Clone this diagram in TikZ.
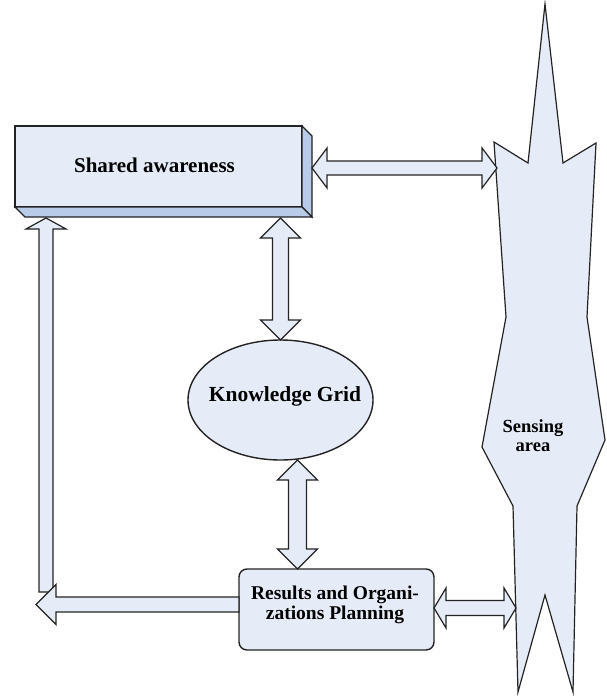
\documentclass[tikz,border=0pt]{standalone}
\usepackage{fontspec}
\setmainfont{Liberation Serif}
\usetikzlibrary{calc,shapes.geometric}

\definecolor{boxfill}{RGB}{230,236,247}
\definecolor{boxside}{RGB}{184,204,234}
\definecolor{edge}{RGB}{35,35,35}

% block arrow with a head at both ends: #1 head length, #2 half shaft, #3 from, #4 to
\newcommand{\dblarrow}[4]{%
  \filldraw[arr] (#3) -- ($(#3)!#1pt!(#4)!20pt!90:(#4)$) -- ($(#3)!#1pt!(#4)!#2pt!90:(#4)$)
    -- ($(#4)!#1pt!(#3)!#2pt!-90:(#3)$) -- ($(#4)!#1pt!(#3)!20pt!-90:(#3)$) -- (#4)
    -- ($(#4)!#1pt!(#3)!20pt!90:(#3)$) -- ($(#4)!#1pt!(#3)!#2pt!90:(#3)$)
    -- ($(#3)!#1pt!(#4)!#2pt!-90:(#4)$) -- ($(#3)!#1pt!(#4)!20pt!-90:(#4)$) -- cycle;}
% block arrow with one head, at #4
\newcommand{\sglarrow}[4]{%
  \filldraw[arr] ($(#3)!#2pt!90:(#4)$) -- ($(#4)!#1pt!(#3)!#2pt!-90:(#3)$)
    -- ($(#4)!#1pt!(#3)!20pt!-90:(#3)$) -- (#4) -- ($(#4)!#1pt!(#3)!20pt!90:(#3)$)
    -- ($(#4)!#1pt!(#3)!#2pt!90:(#3)$) -- ($(#3)!#2pt!-90:(#4)$) -- cycle;}

\begin{document}
\begin{tikzpicture}[x=1pt,y=-1pt,
    box/.style={draw=edge,fill=boxfill,line width=1.4pt,outer sep=0pt},
    arr/.style={draw=edge,fill=boxfill,line width=1.2pt},
    lbl/.style={font=\bfseries\fontsize{#1}{#1}\selectfont,align=center}]
   \useasboundingbox (0,0) rectangle (607,696);
   %sensing area
   \filldraw[arr] (545,4) -- (563,163) -- (596,143) -- (587,317) -- (605,440) -- (577,506)
      -- (573,692) -- (545,595) -- (518,692) -- (513,506) -- (482,447) -- (506,317)
      -- (494,142) -- (528,163) -- cycle;
   \node[lbl=18.5,text height=11pt,inner sep=0pt,baseline] (sens) at (533,446)
      {\fontsize{18.5}{16}\selectfont Sensing\\area};
   %shared awareness, box with depth
   \node[box,minimum width=287,minimum height=81] (sa) at (158.5,166.5) {};
   \filldraw[box,fill=boxside] (sa.north east) -- ([shift={(10,10)}]sa.north east)
      -- ([shift={(10,10)}]sa.south east) -- (sa.south east) -- cycle;
   \filldraw[box,fill=boxside] (sa.south west) -- ([shift={(10,10)}]sa.south west)
      -- ([shift={(10,10)}]sa.south east) -- (sa.south east) -- cycle;
   \node[lbl=21] (sa-txt) at (154.5,165) {Shared awareness};
   %knowledge grid
   \node[box,ellipse,minimum width=185,minimum height=120] (kg) at (280.5,400) {};
   \node[lbl=21.5] (kg-txt) at (285,396) {Knowledge Grid};
   %results
   \node[box,rounded corners=8pt,minimum width=195,minimum height=81] (res) at (336.5,609.5) {};
   \node[lbl=19.5] (res-txt) at (335,605) {\fontsize{19.5}{17}\selectfont Results and Organi-\\zations Planning};
   %arrow ends
   \coordinate (sa-r) at ($(sa.east)+(10,1.5)$);
   \coordinate (sens-t) at (497,168);
   \coordinate (sa-b) at ($(kg.north |- sa.south)+(0,11)$);
   \coordinate (kg-b) at ($(kg.south)+(17,0)$);
   \coordinate (res-t) at (res.north -| kg-b);
   \coordinate (res-r) at ($(res.east)+(0,-1.5)$);
   \coordinate (sens-b) at (516,608);
   \coordinate (res-l) at ($(res.west)+(0,-5)$);
   \coordinate (back-tip) at (36,604.5);
   \coordinate (back-low) at (46,592);
   \coordinate (back-top) at ($(back-low |- sa.south)+(0,11)$);
   %arrows
   \dblarrow{15}{7}{sa-r}{sens-t}
   \dblarrow{20}{8}{sa-b}{kg.north}
   \dblarrow{20}{9}{kg-b}{res-t}
   \dblarrow{12}{7.5}{res-r}{sens-b}
   \sglarrow{11}{7}{back-low}{back-top}
   \sglarrow{20}{7.5}{res-l}{back-tip}
\end{tikzpicture}
\end{document}
